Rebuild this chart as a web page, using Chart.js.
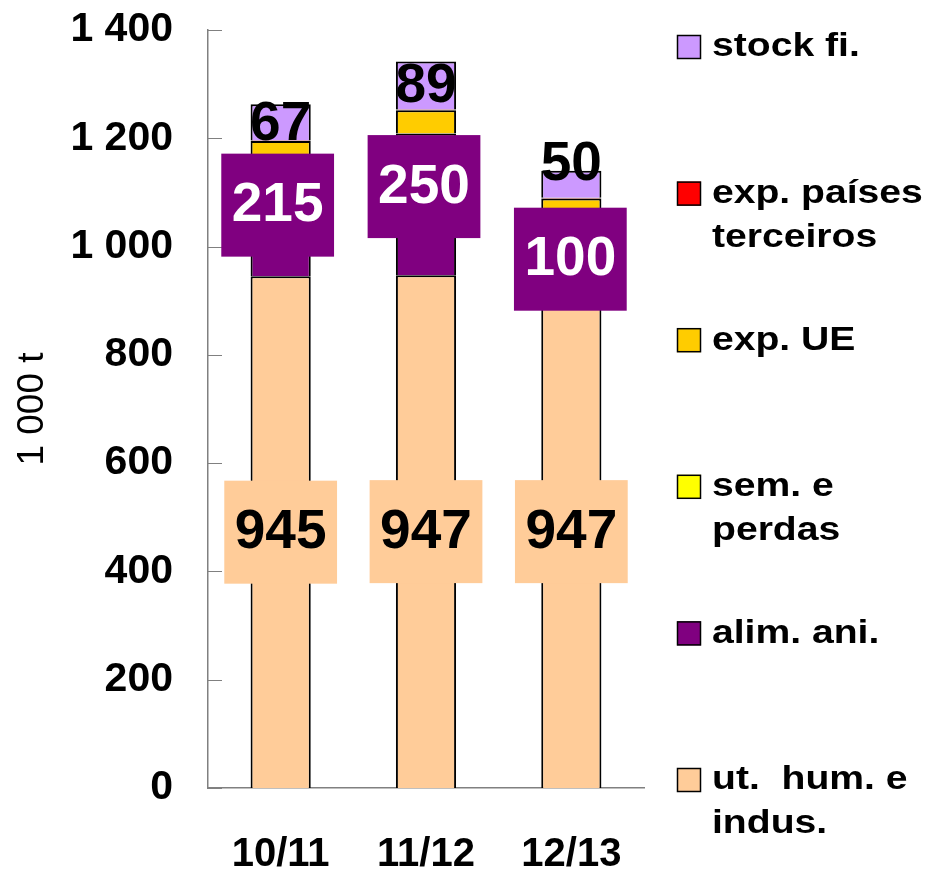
<!DOCTYPE html>
<html>
<head>
<meta charset="utf-8">
<title>Balanço de utilização (1 000 t)</title>
<script src="https://cdn.jsdelivr.net/npm/chart.js@4.4.1/dist/chart.umd.min.js"></script>
<style>
  html, body { margin: 0; padding: 0; background: #fff; }
  #wrap { width: 945px; height: 882px; position: relative; }
</style>
</head>
<body>
<div id="wrap"><canvas id="chart"></canvas></div>
<script>
// Campaigns
const categories = ['10/11', '11/12', '12/13'];

// Utilisation by destination, 1 000 t (stacked bottom to top)
const utHumIndus   = [945, 947, 947];
const alimAni      = [215, 250, 100];
const semPerdas    = [10, 12, 12];
const expUE        = [25, 43, 30];
const expTerceiros = [1, 1, 1];
const stockFinal   = [67, 89, 50];

// Y axis tick labels (0 to 1 400, step 200)
const yTickLabels = ['0', '200', '400', '600', '800', '1 000', '1 200', '1 400'];

// Legend text, one entry per series, split into lines
const legendLines = [
  ['ut.  hum. e', 'indus.'],
  ['alim. ani.'],
  ['sem. e', 'perdas'],
  ['exp. UE'],
  ['exp. países', 'terceiros'],
  ['stock fi.']
];

const FONT = '"Liberation Sans", Arial, Helvetica, sans-serif';
Chart.defaults.font.family = FONT;
Chart.defaults.color = '#000';

// Value labels: which series get one, their colours and small nudges
const labelSpecs = [
  { dataset: 0, fill: '#FFCC99', color: '#000', dx: [0, 0, 0],   dy: [0, 0, 0] },
  { dataset: 1, fill: '#800080', color: '#fff', dx: [-3, -2, -1], dy: [-13, -21, 11] },
  { dataset: 5, fill: null,      color: '#000', dx: [0, 0, 0],   dy: [2, 0, -20] }
];

const valueLabels = {
  id: 'valueLabels',
  afterDatasetsDraw(chart) {
    const ctx = chart.ctx;
    ctx.save();
    ctx.font = 'bold 55px ' + FONT;
    ctx.textAlign = 'center';
    ctx.textBaseline = 'middle';
    labelSpecs.forEach(spec => {
      const meta = chart.getDatasetMeta(spec.dataset);
      const values = chart.data.datasets[spec.dataset].data;
      meta.data.forEach((bar, i) => {
        const text = String(values[i]);
        const cx = bar.x + spec.dx[i];
        const cy = (bar.y + bar.base) / 2 + spec.dy[i];
        if (spec.fill) {
          const w = ctx.measureText(text).width + 21;
          const h = 103;
          ctx.fillStyle = spec.fill;
          ctx.fillRect(cx - w / 2, cy - h / 2, w, h);
        }
        ctx.fillStyle = spec.color;
        ctx.fillText(text, cx, cy + 1);
      });
    });
    ctx.restore();
  }
};

// Short tick marks pointing into the plot from the value axis
const innerTicks = {
  id: 'innerTicks',
  beforeDatasetsDraw(chart) {
    const y = chart.scales.y;
    const ctx = chart.ctx;
    ctx.save();
    ctx.strokeStyle = '#808080';
    ctx.lineWidth = 1;
    y.ticks.forEach(t => {
      const py = Math.round(y.getPixelForValue(t.value)) + 0.5;
      ctx.beginPath();
      ctx.moveTo(y.right, py);
      ctx.lineTo(y.right + 14, py);
      ctx.stroke();
    });
    ctx.restore();
  }
};

// Legend column on the right, top series first
const sideLegend = {
  id: 'sideLegend',
  afterDraw(chart) {
    const ctx = chart.ctx;
    const sets = chart.data.datasets;
    const order = sets.map((d, i) => i).reverse();
    ctx.save();
    ctx.font = 'bold 34px ' + FONT;
    ctx.textBaseline = 'middle';
    ctx.textAlign = 'left';
    order.forEach((di, k) => {
      const ds = sets[di];
      const yc = 47 + k * 146.6;
      ctx.fillStyle = ds.backgroundColor;
      ctx.fillRect(677, yc - 12, 24, 24);
      ctx.strokeStyle = '#000';
      ctx.lineWidth = 1.5;
      ctx.strokeRect(677.5, yc - 11.5, 23, 23);
      ctx.fillStyle = '#000';
      legendLines[di].forEach((line, j) => {
        ctx.save();
        ctx.translate(712, yc + j * 44);
        ctx.scale(1.15, 1);
        ctx.fillText(line, 0, 0);
        ctx.restore();
      });
    });
    ctx.restore();
  }
};

const barStyle = {
  borderColor: '#000',
  borderWidth: 2,
  barPercentage: 0.414,
  categoryPercentage: 1
};

new Chart(document.getElementById('chart'), {
  type: 'bar',
  data: {
    labels: categories,
    datasets: [
      { label: 'ut. hum. e indus.',     data: utHumIndus,   backgroundColor: '#FFCC99', ...barStyle },
      { label: 'alim. ani.',            data: alimAni,      backgroundColor: '#800080', ...barStyle },
      { label: 'sem. e perdas',         data: semPerdas,    backgroundColor: '#FFFF00', ...barStyle },
      { label: 'exp. UE',               data: expUE,        backgroundColor: '#FFCC00', ...barStyle },
      { label: 'exp. países terceiros', data: expTerceiros, backgroundColor: '#FF0000', ...barStyle },
      { label: 'stock fi.',             data: stockFinal,   backgroundColor: '#CC99FF', ...barStyle }
    ]
  },
  options: {
    responsive: true,
    maintainAspectRatio: false,
    animation: false,
    layout: { padding: { top: 30, right: 301, bottom: 0, left: 0 } },
    plugins: {
      legend: { display: false },
      tooltip: { enabled: false }
    },
    scales: {
      x: {
        stacked: true,
        grid: { display: false, drawTicks: false },
        border: { color: '#808080', width: 1.5 },
        ticks: { font: { size: 40, weight: 'bold' }, color: '#000', padding: 43 },
        afterFit(s) { s.height = 94; }
      },
      y: {
        stacked: true,
        min: 0,
        max: 1400,
        grid: { display: false, drawTicks: false },
        border: { color: '#808080', width: 1.5 },
        ticks: {
          stepSize: 200,
          font: { size: 41, weight: 'bold' },
          color: '#000',
          padding: 35,
          callback: (v, i) => yTickLabels[i]
        },
        title: {
          display: true,
          text: '1 000 t',
          font: { size: 37, weight: 'normal' },
          color: '#000',
          padding: { top: 11, bottom: 0 }
        },
        afterFit(s) {
          s.width = 208;
          // the label gap is horizontal only; keep the plot top at the layout padding
          s.paddingTop = 0;
          s.paddingBottom = 0;
        }
      }
    }
  },
  plugins: [innerTicks, valueLabels, sideLegend]
});
</script>
</body>
</html>
